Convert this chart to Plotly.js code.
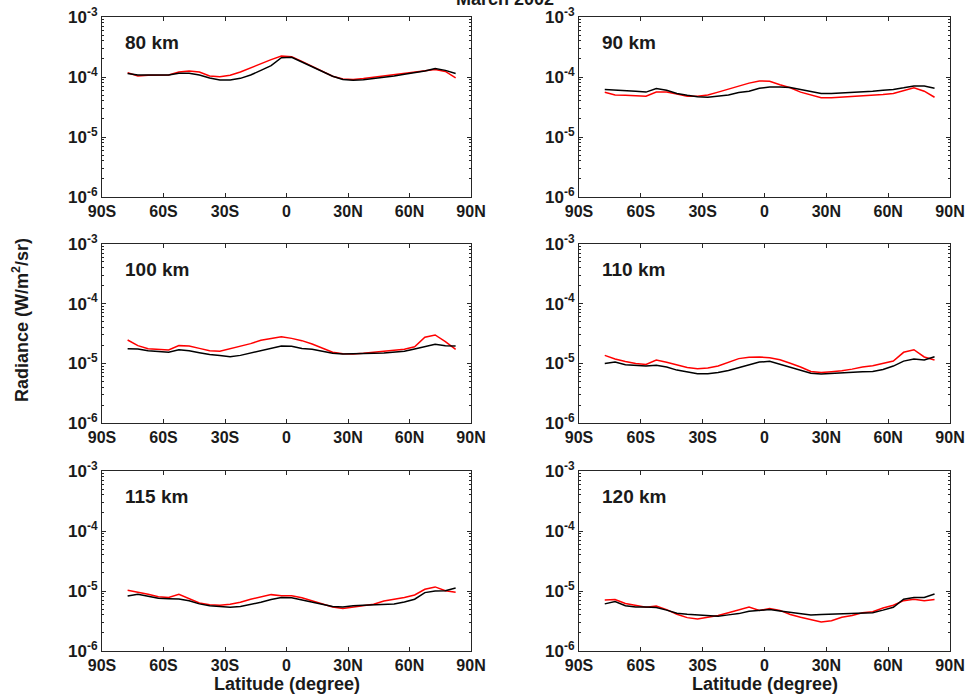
<!DOCTYPE html>
<html><head><meta charset="utf-8">
<script src="https://cdn.plot.ly/plotly-3.0.1.min.js"></script>
<style>html,body{margin:0;padding:0;background:#fff}#chart{width:968px;height:696px}</style>
</head><body><div id="chart"></div>
<script>
// ---- data ----
const lat = [-77.5,-72.5,-67.5,-62.5,-57.5,-52.5,-47.5,-42.5,-37.5,-32.5,-27.5,-22.5,-17.5,-12.5,-7.5,-2.5,2.5,7.5,12.5,17.5,22.5,27.5,32.5,37.5,42.5,47.5,52.5,57.5,62.5,67.5,72.5,77.5,82.5];
const panelLabels = ['80 km','90 km','100 km','110 km','115 km','120 km'];
const xTickVals = [-90,-60,-30,0,30,60,90];
const xTickText = ['90S','60S','30S','0','30N','60N','90N'];
const yTickVals = [1e-6,1e-5,1e-4,1e-3];
const yTickText = ['10<sup>-6</sup>','10<sup>-5</sup>','10<sup>-4</sup>','10<sup>-3</sup>'];

const black80 = [1.14e-4,1.08e-4,1.08e-4,1.08e-4,1.08e-4,1.15e-4,1.15e-4,1.08e-4,9.6e-5,8.9e-5,8.9e-5,9.5e-5,1.08e-4,1.29e-4,1.55e-4,2.10e-4,2.13e-4,1.78e-4,1.47e-4,1.21e-4,1.03e-4,9.1e-5,8.8e-5,9.0e-5,9.4e-5,9.9e-5,1.04e-4,1.11e-4,1.18e-4,1.26e-4,1.38e-4,1.29e-4,1.14e-4];
const red80 = [1.18e-4,1.04e-4,1.07e-4,1.08e-4,1.08e-4,1.21e-4,1.26e-4,1.21e-4,1.04e-4,1.01e-4,1.07e-4,1.21e-4,1.43e-4,1.67e-4,1.95e-4,2.24e-4,2.18e-4,1.82e-4,1.49e-4,1.23e-4,1.03e-4,9.3e-5,9.1e-5,9.4e-5,9.9e-5,1.04e-4,1.08e-4,1.14e-4,1.20e-4,1.26e-4,1.33e-4,1.24e-4,9.7e-5];
const black90 = [6.2e-5,6.1e-5,6.0e-5,5.8e-5,5.6e-5,6.4e-5,6.0e-5,5.3e-5,4.95e-5,4.7e-5,4.6e-5,4.8e-5,5.0e-5,5.5e-5,5.8e-5,6.5e-5,6.8e-5,6.8e-5,6.7e-5,6.2e-5,5.7e-5,5.3e-5,5.3e-5,5.4e-5,5.55e-5,5.7e-5,5.8e-5,6.0e-5,6.2e-5,6.6e-5,7.1e-5,7.1e-5,6.5e-5];
const red90 = [5.55e-5,5.0e-5,4.95e-5,4.9e-5,4.8e-5,5.6e-5,5.6e-5,5.2e-5,4.8e-5,4.8e-5,5.0e-5,5.6e-5,6.3e-5,7.1e-5,7.9e-5,8.6e-5,8.5e-5,7.45e-5,6.6e-5,5.6e-5,4.95e-5,4.5e-5,4.5e-5,4.6e-5,4.8e-5,4.9e-5,5.0e-5,5.1e-5,5.3e-5,6.0e-5,6.6e-5,5.8e-5,4.6e-5];
const black100 = [1.76e-5,1.74e-5,1.63e-5,1.57e-5,1.53e-5,1.69e-5,1.63e-5,1.51e-5,1.40e-5,1.35e-5,1.29e-5,1.36e-5,1.49e-5,1.63e-5,1.78e-5,1.95e-5,1.93e-5,1.78e-5,1.72e-5,1.61e-5,1.47e-5,1.43e-5,1.43e-5,1.45e-5,1.47e-5,1.49e-5,1.53e-5,1.59e-5,1.74e-5,1.93e-5,2.08e-5,1.98e-5,1.95e-5];
const red100 = [2.46e-5,1.98e-5,1.76e-5,1.72e-5,1.67e-5,1.98e-5,1.95e-5,1.78e-5,1.63e-5,1.59e-5,1.76e-5,1.90e-5,2.14e-5,2.43e-5,2.62e-5,2.80e-5,2.62e-5,2.40e-5,2.11e-5,1.78e-5,1.53e-5,1.45e-5,1.43e-5,1.47e-5,1.53e-5,1.59e-5,1.63e-5,1.72e-5,1.90e-5,2.73e-5,2.99e-5,2.31e-5,1.72e-5];
const black110 = [9.9e-6,1.05e-5,9.5e-6,9.3e-6,9.0e-6,9.3e-6,8.7e-6,7.7e-6,7.1e-6,6.7e-6,6.7e-6,7.0e-6,7.6e-6,8.5e-6,9.5e-6,1.05e-5,1.08e-5,9.6e-6,8.5e-6,7.5e-6,6.8e-6,6.6e-6,6.8e-6,7.0e-6,7.1e-6,7.25e-6,7.3e-6,7.9e-6,9.0e-6,1.09e-5,1.18e-5,1.14e-5,1.29e-5];
const red110 = [1.36e-5,1.18e-5,1.07e-5,9.9e-6,9.6e-6,1.14e-5,1.04e-5,9.4e-6,8.5e-6,8.1e-6,8.35e-6,9.0e-6,1.03e-5,1.20e-5,1.26e-5,1.28e-5,1.24e-5,1.15e-5,1.0e-5,8.7e-6,7.3e-6,7.0e-6,7.25e-6,7.5e-6,8.0e-6,8.7e-6,9.1e-6,1.0e-5,1.09e-5,1.53e-5,1.69e-5,1.28e-5,1.14e-5];
const black115 = [8.25e-6,8.8e-6,8.15e-6,7.55e-6,7.45e-6,7.35e-6,6.9e-6,6.1e-6,5.7e-6,5.5e-6,5.35e-6,5.5e-6,5.9e-6,6.5e-6,7.2e-6,7.8e-6,7.7e-6,7.1e-6,6.5e-6,6.0e-6,5.5e-6,5.4e-6,5.7e-6,5.8e-6,5.9e-6,6.0e-6,6.1e-6,6.55e-6,7.3e-6,9.4e-6,1.0e-5,1.01e-5,1.12e-5];
const red115 = [1.03e-5,9.6e-6,8.8e-6,8.05e-6,7.8e-6,8.8e-6,7.45e-6,6.3e-6,5.9e-6,5.8e-6,6.0e-6,6.5e-6,7.3e-6,8.05e-6,8.7e-6,8.35e-6,8.35e-6,7.7e-6,6.9e-6,6.2e-6,5.4e-6,5.1e-6,5.35e-6,5.7e-6,6.0e-6,6.8e-6,7.2e-6,7.8e-6,8.6e-6,1.07e-5,1.17e-5,1.01e-5,9.5e-6];
const black120 = [6.1e-6,6.65e-6,5.7e-6,5.4e-6,5.4e-6,5.3e-6,4.8e-6,4.25e-6,4.1e-6,4.0e-6,3.8e-6,3.8e-6,4.0e-6,4.2e-6,4.6e-6,4.8e-6,4.9e-6,4.65e-6,4.4e-6,4.25e-6,4.0e-6,4.05e-6,4.1e-6,4.15e-6,4.25e-6,4.3e-6,4.35e-6,4.8e-6,5.35e-6,7.3e-6,7.8e-6,7.8e-6,8.9e-6];
const red120 = [7.1e-6,7.2e-6,6.2e-6,5.7e-6,5.35e-6,5.6e-6,4.9e-6,4.1e-6,3.6e-6,3.4e-6,3.6e-6,3.9e-6,4.35e-6,4.9e-6,5.4e-6,4.75e-6,5.1e-6,4.75e-6,4.05e-6,3.65e-6,3.3e-6,3.05e-6,3.2e-6,3.65e-6,3.9e-6,4.35e-6,4.5e-6,5.2e-6,5.8e-6,6.9e-6,7.3e-6,6.9e-6,7.2e-6];

const blackSeries = [black80,black90,black100,black110,black115,black120];
const redSeries = [red80,red90,red100,red110,red115,red120];

// ---- layout geometry (pixels) ----
const W = 968, H = 696;
const colsPx = [[102,471],[579,950]];
const rowsPx = [[17,197],[244,423],[471,651]];
const FONT = 'Liberation Sans, Arial, Helvetica, sans-serif';
const AX = '#262626';

const data = [];
const layout = {
  width: W, height: H,
  margin: {l:0, r:0, t:0, b:0},
  paper_bgcolor: '#fff', plot_bgcolor: '#fff',
  showlegend: false,
  font: {family: FONT, color: '#1a1a1a', weight: 'bold'},
  annotations: []
};

for (let i = 0; i < 6; i++) {
  const n = i + 1;
  const r = Math.floor(i / 2), c = i % 2;
  const xs = n === 1 ? '' : String(n);
  data.push({x: lat, y: redSeries[i], type: 'scatter', mode: 'lines',
    line: {color: '#ff0000', width: 1.5}, xaxis: 'x' + xs, yaxis: 'y' + xs, hoverinfo: 'skip'});
  data.push({x: lat, y: blackSeries[i], type: 'scatter', mode: 'lines',
    line: {color: '#000000', width: 1.5}, xaxis: 'x' + xs, yaxis: 'y' + xs, hoverinfo: 'skip'});

  layout['xaxis' + xs] = {
    domain: [colsPx[c][0] / W, colsPx[c][1] / W],
    range: [-90, 90], anchor: 'y' + xs,
    tickmode: 'array', tickvals: xTickVals, ticktext: xTickText,
    ticks: 'inside', ticklen: 4, tickwidth: 1, tickcolor: AX,
    showline: true, linecolor: AX, linewidth: 1, mirror: 'allticks',
    showgrid: false, zeroline: false,
    tickfont: {family: FONT, size: 16, color: '#1a1a1a', weight: 'bold'}
  };
  layout['yaxis' + xs] = {
    domain: [1 - rowsPx[r][1] / H, 1 - rowsPx[r][0] / H],
    type: 'log', range: [-6, -3], anchor: 'x' + xs,
    tickmode: 'array', tickvals: yTickVals, ticktext: yTickText,
    ticks: 'inside', ticklen: 4, tickwidth: 1, tickcolor: AX,
    minor: {ticks: 'inside', ticklen: 2, tickwidth: 1, tickcolor: AX, dtick: 'D1', showgrid: false},
    showline: true, linecolor: AX, linewidth: 1, mirror: 'allticks',
    showgrid: false, zeroline: false,
    tickfont: {family: FONT, size: 17, color: '#1a1a1a', weight: 'bold'}
  };
  layout.annotations.push({
    text: panelLabels[i], xref: 'x' + xs + ' domain', yref: 'y' + xs + ' domain',
    x: 0.056, y: 0.86, xanchor: 'left', yanchor: 'middle', showarrow: false,
    font: {family: FONT, size: 19, color: '#1a1a1a', weight: 'bold'}
  });
  if (r === 2) {
    layout.annotations.push({
      text: 'Latitude (degree)', xref: 'paper', yref: 'paper',
      x: (colsPx[c][0] + colsPx[c][1]) / 2 / W, y: 1 - 684 / H,
      xanchor: 'center', yanchor: 'middle', showarrow: false,
      font: {family: FONT, size: 18, color: '#1a1a1a', weight: 'bold'}
    });
  }
}
layout.annotations.push({
  text: 'Radiance (W/m<sup>2</sup>/sr)', xref: 'paper', yref: 'paper',
  x: 20 / W, y: 1 - 320 / H, xanchor: 'center', yanchor: 'middle', textangle: -90,
  showarrow: false, font: {family: FONT, size: 18, color: '#1a1a1a', weight: 'bold'}
});
layout.annotations.push({
  text: 'March 2002', xref: 'paper', yref: 'paper',
  x: 505 / W, y: 1 + 1 / H, xanchor: 'center', yanchor: 'middle',
  showarrow: false, font: {family: FONT, size: 18, color: '#1a1a1a', weight: 'bold'}
});

Plotly.newPlot('chart', data, layout, {displayModeBar: false, staticPlot: true});
</script>
</body></html>
